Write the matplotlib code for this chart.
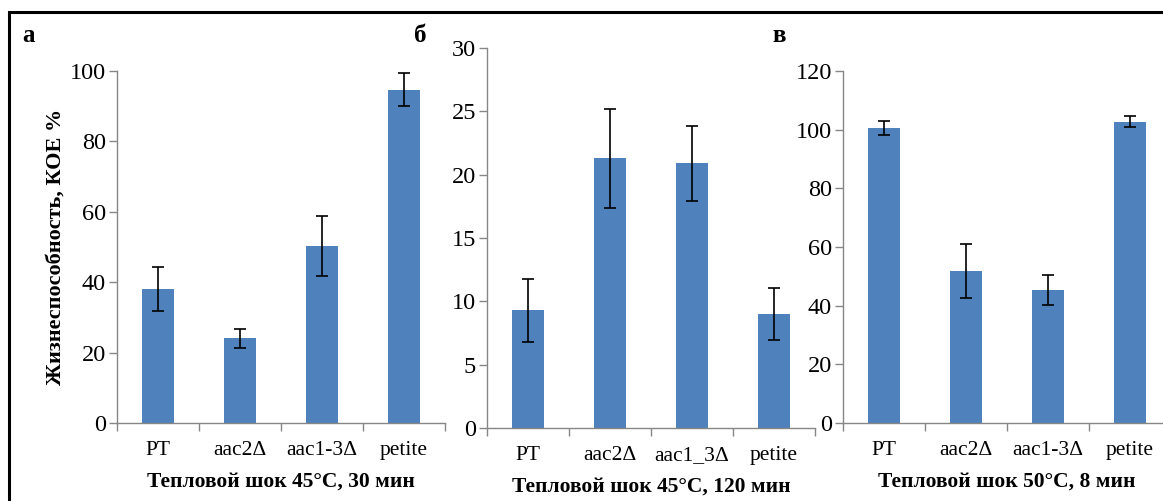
import matplotlib
matplotlib.use("Agg")
import matplotlib.pyplot as plt
from matplotlib.patches import Rectangle

# data
labels_a = ["PT", "aac2\u0394", "aac1-3\u0394", "petite"]
values_a = [38.0, 24.1, 50.2, 94.7]
errors_a = [6.2, 2.7, 8.5, 4.6]

labels_b = ["PT", "aac2\u0394", "aac1_3\u0394", "petite"]
values_b = [9.3, 21.3, 20.9, 9.0]
errors_b = [2.5, 3.9, 2.95, 2.07]

labels_c = ["PT", "aac2\u0394", "aac1-3\u0394", "petite"]
values_c = [100.5, 51.8, 45.3, 102.7]
errors_c = [2.3, 9.3, 5.0, 1.9]

titles = ["Тепловой шок 45°C, 30 мин", "Тепловой шок 45°C, 120 мин", "Тепловой шок 50°C, 8 мин"]
letters = ["а", "б", "в"]
ylims = [(0, 100, 20), (0, 30, 5), (0, 120, 20)]

# style
plt.rcParams["font.family"] = ["Liberation Serif", "DejaVu Serif"]
BAR = "#4F81BD"
AXIS = "#868686"

W, H = 1163, 501
fig = plt.figure(figsize=(W / 100, H / 100), dpi=100)

# axes rectangles in pixels: left, right, y of 0, y of top
boxes = [(117, 445, 423, 71), (487, 815, 428, 48), (843, 1171, 423, 71)]
panels = [(labels_a, values_a, errors_a), (labels_b, values_b, errors_b), (labels_c, values_c, errors_c)]

for i, ((x0, x1, yb, yt), (labels, values, errors)) in enumerate(zip(boxes, panels)):
    ax = fig.add_axes([x0 / W, 1 - yb / H, (x1 - x0) / W, (yb - yt) / H])
    x = range(len(labels))
    ax.bar(x, values, width=0.4, color=BAR, zorder=2)
    ax.errorbar(x, values, yerr=errors, fmt="none", ecolor="black",
                elinewidth=1.2, capsize=4.2, capthick=1.2, zorder=3)

    lo, hi, step = ylims[i]
    ax.set_ylim(lo, hi)
    ax.set_yticks(range(lo, hi + 1, step))
    ax.set_xlim(-0.5, 3.5)
    ax.set_xticks(list(x))
    ax.set_xticklabels(labels, fontsize=15.5)
    ax.set_xticks([-0.5, 0.5, 1.5, 2.5, 3.5], minor=True)
    ax.tick_params(axis="x", which="major", length=0, pad=13)
    ax.tick_params(axis="x", which="minor", length=6, width=1, color=AXIS, direction="out")
    ax.tick_params(axis="y", length=6, width=1, color=AXIS, pad=2, labelsize=17.5)

    for s in ["top", "right"]:
        ax.spines[s].set_visible(False)
    for s in ["left", "bottom"]:
        ax.spines[s].set_color(AXIS)
        ax.spines[s].set_linewidth(1)

    ax.set_xlabel(titles[i], fontsize=15.5, fontweight="bold", labelpad=8)
    if i == 0:
        ax.set_ylabel("Жизнеспособность, КОЕ %", fontsize=16, fontweight="bold", labelpad=3)

# panel letters
for letter, (px, py) in zip(letters, [(22, 35), (414, 35), (772, 35)]):
    fig.text(px / W, 1 - py / H, letter, fontsize=18, fontweight="bold", va="center", ha="left")

# frame around the figure (cropped at the bottom and right)
fig.add_artist(Rectangle((9 / W, -0.1), 1.2, 1 - 11.5 / H + 0.1, transform=fig.transFigure,
                         fill=False, edgecolor="black", linewidth=2.2, clip_on=False))

fig.savefig("out.png", dpi=100)
